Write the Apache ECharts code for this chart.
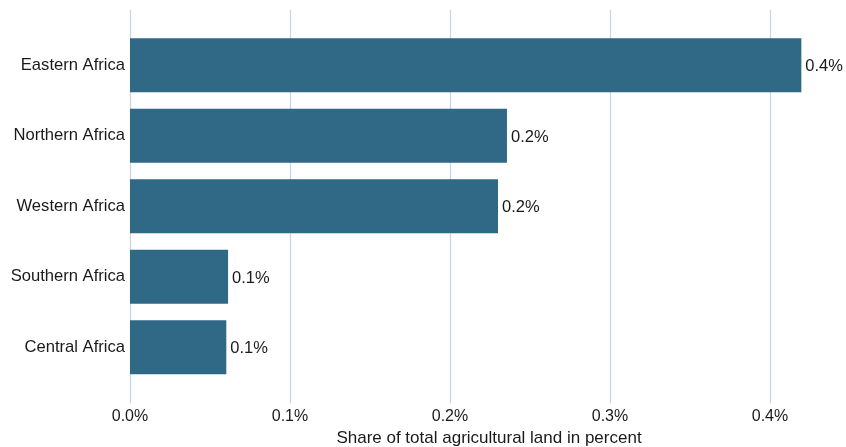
<!DOCTYPE html>
<html>
<head>
<meta charset="utf-8">
<script src="https://cdn.jsdelivr.net/npm/echarts@6/dist/echarts.min.js"></script>
<style>html,body{margin:0;padding:0;background:#fff;}#c{width:846px;height:447px;}</style>
</head>
<body>
<div id="c"></div>
<script>
var categories = ["Eastern Africa", "Northern Africa", "Western Africa", "Southern Africa", "Central Africa"];
var values = [0.4196, 0.2356, 0.2300, 0.0613, 0.0602];
var xTicks = [0, 0.1, 0.2, 0.3, 0.4];
var xTitle = "Share of total agricultural land in percent";

var chart = echarts.init(document.getElementById('c'), null, {renderer: 'canvas'});
var font = 'Liberation Sans, Arial, sans-serif';
var xMax = 0.4475;
chart.setOption({
  backgroundColor: '#ffffff',
  animation: false,
  grid: [
    {left: 130, right: 76, top: 10, bottom: 44, containLabel: false, outerBoundsMode: 'none'},
    {left: 130, right: 0, top: 30, height: 352.5, containLabel: false, outerBoundsMode: 'none'}
  ],
  xAxis: [
    {
      gridIndex: 0, type: 'value', min: 0, max: 0.4, interval: 0.1,
      axisLine: {show: false}, axisTick: {show: false},
      splitLine: {show: true, lineStyle: {color: '#c6d8e6', width: 1.3}},
      axisLabel: {
        margin: 6, fontSize: 16, color: '#1a1a1a', fontFamily: font,
        formatter: function (v) { return v.toFixed(1) + '%'; }
      },
      name: xTitle, nameLocation: 'middle', nameGap: 25,
      nameTextStyle: {fontSize: 17, color: '#1a1a1a', fontFamily: font, padding: [0, 0, 0, 78]}
    },
    {
      gridIndex: 1, type: 'value', min: 0, max: xMax, interval: 0.1,
      show: false, splitLine: {show: false}
    }
  ],
  yAxis: [
    {gridIndex: 0, type: 'category', data: categories, show: false},
    {
      gridIndex: 1, type: 'category', data: categories, inverse: true,
      axisLine: {show: false}, axisTick: {show: false},
      axisLabel: {margin: 5, fontSize: 16.6, color: '#1a1a1a', fontFamily: font, padding: [3, 0, 0, 0]}
    }
  ],
  series: [{
    type: 'bar', xAxisIndex: 1, yAxisIndex: 1,
    data: values, barWidth: 54,
    itemStyle: {color: '#2f6986'},
    label: {
      show: true, position: 'right', distance: 4, offset: [0, 1.5],
      fontSize: 16.5, color: '#1a1a1a', fontFamily: font,
      formatter: function (p) { return p.value.toFixed(1) + '%'; }
    }
  }]
});
</script>
</body>
</html>
